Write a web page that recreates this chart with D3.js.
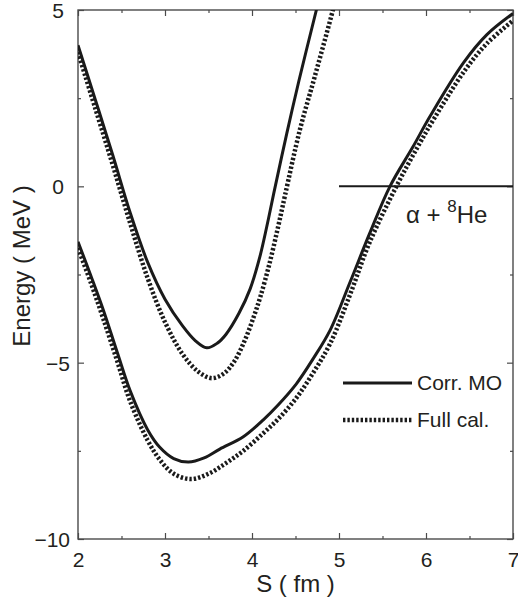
<!DOCTYPE html>
<html><head><meta charset="utf-8">
<script src="https://cdn.jsdelivr.net/npm/d3@7"></script>
<style>body{margin:0;background:#fff}svg{display:block}text{font-family:"Liberation Sans",Arial,sans-serif;fill:#231f20}</style>
</head><body><svg id="c" width="518" height="605"></svg>
<script>
// Data
const xTicks = [2, 3, 4, 5, 6, 7];
const yTicks = [5, 0, -5, -10];
const seriesNames = ["Corr. MO", "Full cal."];
const upperCorrS = [2.0, 2.2, 2.4, 2.6, 2.8, 3.0, 3.2, 3.35, 3.48, 3.6, 3.7, 3.85, 3.98, 4.09, 4.17, 4.25, 4.4, 4.54, 4.74, 4.78];
const upperCorrE = [4.0, 2.45, 0.88, -0.75, -2.15, -3.2, -3.95, -4.38, -4.58, -4.45, -4.2, -3.6, -2.9, -2.0, -1.14, -0.2, 1.5, 3.0, 5.0, 5.4];
const upperFullS = [2.0, 2.2, 2.4, 2.6, 2.8, 3.0, 3.2, 3.38, 3.54, 3.68, 3.8, 3.92, 4.02, 4.1, 4.2, 4.3, 4.38, 4.55, 4.72, 4.93, 4.97];
const upperFullE = [3.8, 2.2, 0.6, -1.05, -2.6, -3.85, -4.75, -5.25, -5.44, -5.3, -4.95, -4.35, -3.7, -3.1, -2.2, -1.15, -0.25, 1.6, 3.1, 5.0, 5.4];
const lowerCorrS = [2.0, 2.15, 2.29, 2.45, 2.6, 2.8, 2.94, 3.1, 3.27, 3.45, 3.63, 3.9, 4.13, 4.3, 4.51, 4.7, 4.9, 5.13, 5.35, 5.586, 5.85, 6.05, 6.43, 6.7, 7.0];
const lowerCorrE = [-1.57, -2.55, -3.5, -4.7, -5.8, -6.9, -7.4, -7.72, -7.82, -7.7, -7.45, -7.1, -6.62, -6.2, -5.6, -4.9, -4.07, -2.7, -1.35, 0, 1.12, 2.0, 3.5, 4.3, 4.9];
const lowerFullS = [2.0, 2.15, 2.29, 2.45, 2.6, 2.8, 2.94, 3.1, 3.3, 3.5, 3.7, 3.9, 4.13, 4.3, 4.51, 4.7, 4.9, 5.13, 5.35, 5.66, 5.9, 6.1, 6.45, 6.7, 7.0];
const lowerFullE = [-1.75, -2.75, -3.75, -4.95, -6.1, -7.2, -7.75, -8.15, -8.3, -8.15, -7.85, -7.5, -7.0, -6.6, -6.0, -5.3, -4.45, -3.05, -1.6, 0, 1.1, 1.95, 3.3, 4.05, 4.7];
const thresholdS = [5, 7];
const thresholdE = [0, 0];

const svg = d3.select("#c");
const L = 78, R = 513, T = 10, B = 539;
const x = d3.scaleLinear().domain([2, 7]).range([L, R]);
const y = d3.scaleLinear().domain([-10, 5]).range([B, T]);

svg.append("defs").append("clipPath").attr("id", "clip")
  .append("rect").attr("x", L).attr("y", T).attr("width", R - L).attr("height", B - T);

const axisColor = "#4a4a4a";
const minorX = d3.range(2.5, 7, 1);
const minorY = [2.5, -2.5, -7.5];
function addAxis(gen, tr, major, minor, len, mlen) {
  const g = svg.append("g").attr("transform", tr)
    .call(gen.tickValues(major).tickSize(len).tickFormat(""));
  g.selectAll("line").attr("stroke", axisColor).attr("stroke-width", 1.2);
  g.select(".domain").remove();
  const g2 = svg.append("g").attr("transform", tr)
    .call(gen.tickValues(minor).tickSize(mlen).tickFormat(""));
  g2.selectAll("line").attr("stroke", axisColor).attr("stroke-width", 1.2);
  g2.select(".domain").remove();
}
addAxis(d3.axisTop(x), `translate(0,${B})`, xTicks, minorX, 6, 3);
addAxis(d3.axisBottom(x), `translate(0,${T})`, xTicks, minorX, 6, 3);
addAxis(d3.axisRight(y), `translate(${L},0)`, yTicks, minorY, 6, 3);
addAxis(d3.axisLeft(y), `translate(${R},0)`, yTicks, minorY, 6, 3);
svg.append("rect").attr("x", L).attr("y", T).attr("width", R - L).attr("height", B - T)
  .attr("fill", "none").attr("stroke", axisColor).attr("stroke-width", 1.4);

// tick labels
const xl = svg.append("g").attr("transform", `translate(0,${B})`)
  .call(d3.axisBottom(x).tickValues(xTicks).tickSize(0).tickPadding(0).tickFormat(d3.format("d")));
xl.select(".domain").remove();
xl.selectAll("text").attr("y", 28).attr("dy", 0).style("font-size", "21px").attr("fill", "#231f20");
const yl = svg.append("g").attr("transform", `translate(${L},0)`)
  .call(d3.axisLeft(y).tickValues(yTicks).tickSize(0).tickPadding(0).tickFormat(d => d < 0 ? "\u2212" + Math.abs(d) : d));
yl.select(".domain").remove();
yl.selectAll("text").attr("x", d => d < 0 ? -8 : -14).attr("dy", "0.35em").style("font-size", "21px").attr("fill", "#231f20");

svg.append("text").attr("x", (L + R) / 2).attr("y", 592).attr("text-anchor", "middle")
  .style("font-size", "24px").text("S ( fm )");
svg.append("text").attr("transform", `translate(30,266) rotate(-90)`).attr("text-anchor", "middle")
  .style("font-size", "24px").text("Energy ( MeV )");

// curves
const line = d3.line().x(d => x(d[0])).y(d => y(d[1])).curve(d3.curveCatmullRom.alpha(0.5));
const plot = svg.append("g").attr("clip-path", "url(#clip)");
const zip = (a, b) => a.map((v, i) => [v, b[i]]);
const solidStyle = { stroke: "#1a1a1a", width: 3 };
const dotStyle = { stroke: "#1a1a1a", width: 4.5, dash: "2.4,2" };
function draw(data, st) {
  plot.append("path").datum(data).attr("d", line).attr("fill", "none")
    .attr("stroke", st.stroke).attr("stroke-width", st.width)
    .attr("stroke-dasharray", st.dash || null);
}
draw(zip(upperFullS, upperFullE), dotStyle);
draw(zip(lowerFullS, lowerFullE), dotStyle);
draw(zip(upperCorrS, upperCorrE), solidStyle);
draw(zip(lowerCorrS, lowerCorrE), solidStyle);
plot.append("path").datum(zip(thresholdS, thresholdE)).attr("d", d3.line().x(d => x(d[0])).y(d => y(d[1])))
  .attr("stroke", "#1a1a1a").attr("stroke-width", 2);

const lab = svg.append("text").attr("x", 406).attr("y", 223).style("font-size", "24px");
lab.append("tspan").text("\u03b1 + ");
lab.append("tspan").attr("dy", -11).style("font-size", "17px").text("8");
lab.append("tspan").attr("dy", 11).text("He");

// legend
const lg = svg.append("g");
const ly = [383, 420];
[solidStyle, dotStyle].forEach((st, i) => {
  lg.append("line").attr("x1", 343).attr("x2", 412).attr("y1", ly[i]).attr("y2", ly[i])
    .attr("stroke", st.stroke).attr("stroke-width", st.width).attr("stroke-dasharray", st.dash || null);
  lg.append("text").attr("x", 417).attr("y", ly[i] + 7).style("font-size", "21px").text(seriesNames[i]);
});
</script></body></html>
